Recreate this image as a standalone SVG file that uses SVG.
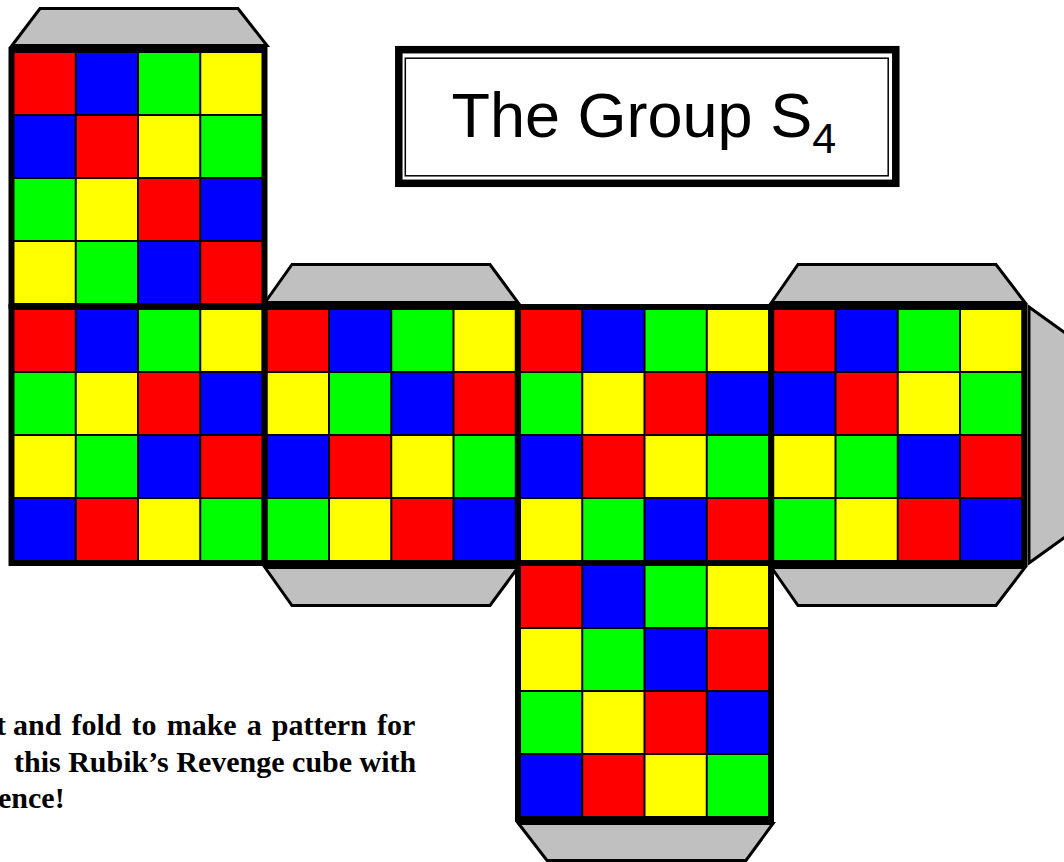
<svg xmlns="http://www.w3.org/2000/svg" width="1064" height="862" viewBox="0 0 1064 862">
<style>
.frame{fill:#000}
.r{fill:#FF0000}.b{fill:#0000FF}.g{fill:#00FF00}.y{fill:#FFFF00}
.tab{fill:#C0C0C0;stroke:#000;stroke-width:3;stroke-linejoin:miter}
.title{font-family:"Liberation Sans",Arial,sans-serif;fill:#000}
.note{font-family:"Liberation Serif","Times New Roman",serif;font-weight:bold;font-size:30px;fill:#000}
</style>
<defs>
<rect id="fr" class="frame" x="-3" y="-3" width="259" height="262"/>
</defs>
<rect width="1064" height="862" fill="#fff"/>
<g id="tabs">
<polygon id="tab-top" class="tab" points="12,45.5 40,8.5 238,8.5 267,45.5"/>
<polygon id="tab-f2-top" class="tab" points="265,302.5 292,264.5 490,264.5 518,302.5"/>
<polygon id="tab-f4-top" class="tab" points="771.5,302.5 798,264.5 996,264.5 1025,302.5"/>
<polygon id="tab-f2-bottom" class="tab" points="265,567.5 292,605.5 490,605.5 518,567.5"/>
<polygon id="tab-f4-bottom" class="tab" points="771.5,567.5 798,605.5 996,605.5 1025,567.5"/>
<polygon id="tab-bottom" class="tab" points="518.5,823.5 547,860.5 746,860.5 773,823.5"/>
<polygon id="tab-right" class="tab" points="1029,307 1068,335 1068,535 1029,563"/>
</g>
<g id="face-top" transform="translate(11.5,50)">
<use href="#fr"/>
<rect class="r" x="3" y="3" width="60.25" height="61"/><rect class="b" x="65.25" y="3" width="60.25" height="61"/><rect class="g" x="127.5" y="3" width="60.25" height="61"/><rect class="y" x="189.75" y="3" width="60.25" height="61"/>
<rect class="b" x="3" y="66" width="60.25" height="61"/><rect class="r" x="65.25" y="66" width="60.25" height="61"/><rect class="y" x="127.5" y="66" width="60.25" height="61"/><rect class="g" x="189.75" y="66" width="60.25" height="61"/>
<rect class="g" x="3" y="129" width="60.25" height="61"/><rect class="y" x="65.25" y="129" width="60.25" height="61"/><rect class="r" x="127.5" y="129" width="60.25" height="61"/><rect class="b" x="189.75" y="129" width="60.25" height="61"/>
<rect class="y" x="3" y="192" width="60.25" height="61"/><rect class="g" x="65.25" y="192" width="60.25" height="61"/><rect class="b" x="127.5" y="192" width="60.25" height="61"/><rect class="r" x="189.75" y="192" width="60.25" height="61"/>
</g>
<g id="face-1" transform="translate(11.5,307)">
<use href="#fr"/>
<rect class="r" x="3" y="3" width="60.25" height="61"/><rect class="b" x="65.25" y="3" width="60.25" height="61"/><rect class="g" x="127.5" y="3" width="60.25" height="61"/><rect class="y" x="189.75" y="3" width="60.25" height="61"/>
<rect class="g" x="3" y="66" width="60.25" height="61"/><rect class="y" x="65.25" y="66" width="60.25" height="61"/><rect class="r" x="127.5" y="66" width="60.25" height="61"/><rect class="b" x="189.75" y="66" width="60.25" height="61"/>
<rect class="y" x="3" y="129" width="60.25" height="61"/><rect class="g" x="65.25" y="129" width="60.25" height="61"/><rect class="b" x="127.5" y="129" width="60.25" height="61"/><rect class="r" x="189.75" y="129" width="60.25" height="61"/>
<rect class="b" x="3" y="192" width="60.25" height="61"/><rect class="r" x="65.25" y="192" width="60.25" height="61"/><rect class="y" x="127.5" y="192" width="60.25" height="61"/><rect class="g" x="189.75" y="192" width="60.25" height="61"/>
</g>
<g id="face-2" transform="translate(264.75,307)">
<use href="#fr"/>
<rect class="r" x="3" y="3" width="60.25" height="61"/><rect class="b" x="65.25" y="3" width="60.25" height="61"/><rect class="g" x="127.5" y="3" width="60.25" height="61"/><rect class="y" x="189.75" y="3" width="60.25" height="61"/>
<rect class="y" x="3" y="66" width="60.25" height="61"/><rect class="g" x="65.25" y="66" width="60.25" height="61"/><rect class="b" x="127.5" y="66" width="60.25" height="61"/><rect class="r" x="189.75" y="66" width="60.25" height="61"/>
<rect class="b" x="3" y="129" width="60.25" height="61"/><rect class="r" x="65.25" y="129" width="60.25" height="61"/><rect class="y" x="127.5" y="129" width="60.25" height="61"/><rect class="g" x="189.75" y="129" width="60.25" height="61"/>
<rect class="g" x="3" y="192" width="60.25" height="61"/><rect class="y" x="65.25" y="192" width="60.25" height="61"/><rect class="r" x="127.5" y="192" width="60.25" height="61"/><rect class="b" x="189.75" y="192" width="60.25" height="61"/>
</g>
<g id="face-3" transform="translate(518,307)">
<use href="#fr"/>
<rect class="r" x="3" y="3" width="60.25" height="61"/><rect class="b" x="65.25" y="3" width="60.25" height="61"/><rect class="g" x="127.5" y="3" width="60.25" height="61"/><rect class="y" x="189.75" y="3" width="60.25" height="61"/>
<rect class="g" x="3" y="66" width="60.25" height="61"/><rect class="y" x="65.25" y="66" width="60.25" height="61"/><rect class="r" x="127.5" y="66" width="60.25" height="61"/><rect class="b" x="189.75" y="66" width="60.25" height="61"/>
<rect class="b" x="3" y="129" width="60.25" height="61"/><rect class="r" x="65.25" y="129" width="60.25" height="61"/><rect class="y" x="127.5" y="129" width="60.25" height="61"/><rect class="g" x="189.75" y="129" width="60.25" height="61"/>
<rect class="y" x="3" y="192" width="60.25" height="61"/><rect class="g" x="65.25" y="192" width="60.25" height="61"/><rect class="b" x="127.5" y="192" width="60.25" height="61"/><rect class="r" x="189.75" y="192" width="60.25" height="61"/>
</g>
<g id="face-4" transform="translate(771.25,307)">
<use href="#fr"/>
<rect class="r" x="3" y="3" width="60.25" height="61"/><rect class="b" x="65.25" y="3" width="60.25" height="61"/><rect class="g" x="127.5" y="3" width="60.25" height="61"/><rect class="y" x="189.75" y="3" width="60.25" height="61"/>
<rect class="b" x="3" y="66" width="60.25" height="61"/><rect class="r" x="65.25" y="66" width="60.25" height="61"/><rect class="y" x="127.5" y="66" width="60.25" height="61"/><rect class="g" x="189.75" y="66" width="60.25" height="61"/>
<rect class="y" x="3" y="129" width="60.25" height="61"/><rect class="g" x="65.25" y="129" width="60.25" height="61"/><rect class="b" x="127.5" y="129" width="60.25" height="61"/><rect class="r" x="189.75" y="129" width="60.25" height="61"/>
<rect class="g" x="3" y="192" width="60.25" height="61"/><rect class="y" x="65.25" y="192" width="60.25" height="61"/><rect class="r" x="127.5" y="192" width="60.25" height="61"/><rect class="b" x="189.75" y="192" width="60.25" height="61"/>
</g>
<g id="face-bottom" transform="translate(518,563)">
<use href="#fr"/>
<rect class="r" x="3" y="3" width="60.25" height="61"/><rect class="b" x="65.25" y="3" width="60.25" height="61"/><rect class="g" x="127.5" y="3" width="60.25" height="61"/><rect class="y" x="189.75" y="3" width="60.25" height="61"/>
<rect class="y" x="3" y="66" width="60.25" height="61"/><rect class="g" x="65.25" y="66" width="60.25" height="61"/><rect class="b" x="127.5" y="66" width="60.25" height="61"/><rect class="r" x="189.75" y="66" width="60.25" height="61"/>
<rect class="g" x="3" y="129" width="60.25" height="61"/><rect class="y" x="65.25" y="129" width="60.25" height="61"/><rect class="r" x="127.5" y="129" width="60.25" height="61"/><rect class="b" x="189.75" y="129" width="60.25" height="61"/>
<rect class="b" x="3" y="192" width="60.25" height="61"/><rect class="r" x="65.25" y="192" width="60.25" height="61"/><rect class="y" x="127.5" y="192" width="60.25" height="61"/><rect class="g" x="189.75" y="192" width="60.25" height="61"/>
</g>
<g id="title">
<rect x="398.8" y="49.7" width="497" height="133.6" fill="#fff" stroke="#000" stroke-width="7.5"/>
<rect x="405.3" y="58.2" width="482.9" height="117.6" fill="none" stroke="#000" stroke-width="1.5"/>
<text class="title" x="451.5" y="136.7" font-size="63">The Group S<tspan font-size="43" dy="16">4</tspan></text>
</g>
<g id="note">
<text class="note" x="-4" y="735">t</text>
<text class="note" x="13" y="735" word-spacing="2.6">and fold to make a pattern for</text>
<text class="note" x="14" y="771.5">this Rubik’s Revenge cube with</text>
<text class="note" x="-2" y="808">ence!</text>
</g>
</svg>
